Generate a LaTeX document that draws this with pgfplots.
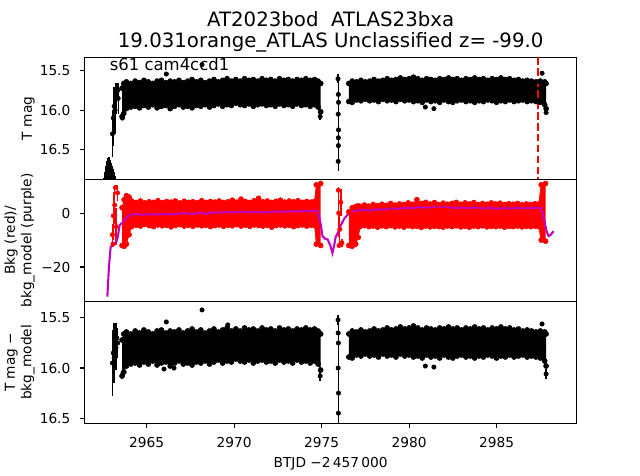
\documentclass[border=0pt]{standalone}
\usepackage{fontspec}
\setmainfont{DejaVu Sans}
\usepackage{pgfplots}
\usepackage{pgfplotstable}
\pgfplotsset{compat=1.18}
\usepgfplotslibrary{fillbetween}
\definecolor{mpurple}{rgb}{0.75,0,0.75}

% ---- T mag band, first orbit (x, top=smaller mag, bottom=larger mag)
\pgfplotstableread{
x t b
2963.60 15.72 16.08
2963.70 15.66 16.04
2963.85 15.64 15.98
2964.10 15.66 15.96
2964.35 15.63 15.95
2964.60 15.65 15.97
2964.85 15.62 15.94
2965.10 15.64 15.96
2965.35 15.66 15.93
2965.60 15.63 15.97
2965.85 15.62 15.95
2966.10 15.65 15.94
2966.35 15.63 15.98
2966.60 15.64 15.95
2966.85 15.62 15.93
2967.10 15.65 15.96
2967.35 15.63 15.95
2967.60 15.61 15.97
2967.85 15.64 15.94
2968.10 15.62 15.95
2968.35 15.65 15.93
2968.60 15.63 15.96
2968.85 15.61 15.94
2969.10 15.64 15.92
2969.35 15.62 15.95
2969.60 15.60 15.93
2969.85 15.63 15.94
2970.10 15.61 15.91
2970.35 15.63 15.93
2970.60 15.60 15.94
2970.85 15.62 15.92
2971.10 15.61 15.95
2971.35 15.63 15.93
2971.60 15.60 15.92
2971.85 15.62 15.94
2972.10 15.61 15.93
2972.35 15.63 15.95
2972.60 15.60 15.92
2972.85 15.62 15.94
2973.10 15.61 15.93
2973.35 15.63 15.95
2973.60 15.61 15.92
2973.85 15.62 15.94
2974.10 15.60 15.93
2974.35 15.62 15.95
2974.60 15.61 15.93
2974.80 15.63 15.96
2974.95 15.66 16.02
}\bandA

% ---- T mag band, second orbit
\pgfplotstableread{
x t b
2976.56 15.66 15.89
2976.75 15.63 15.90
2977.00 15.64 15.87
2977.25 15.62 15.88
2977.50 15.64 15.86
2977.75 15.63 15.88
2978.00 15.61 15.87
2978.25 15.63 15.89
2978.50 15.62 15.86
2978.75 15.60 15.88
2979.00 15.62 15.87
2979.25 15.61 15.89
2979.50 15.59 15.86
2979.75 15.61 15.88
2980.00 15.60 15.87
2980.25 15.58 15.89
2980.50 15.60 15.88
2980.75 15.62 15.90
2981.00 15.60 15.87
2981.25 15.61 15.89
2981.50 15.62 15.88
2981.75 15.60 15.90
2982.00 15.61 15.87
2982.25 15.59 15.89
2982.50 15.61 15.90
2982.75 15.60 15.88
2983.00 15.62 15.87
2983.25 15.60 15.89
2983.50 15.61 15.88
2983.75 15.59 15.90
2984.00 15.61 15.88
2984.25 15.60 15.89
2984.50 15.62 15.87
2984.75 15.60 15.88
2985.00 15.61 15.90
2985.25 15.59 15.88
2985.50 15.61 15.89
2985.75 15.60 15.87
2986.00 15.62 15.89
2986.25 15.61 15.88
2986.50 15.63 15.87
2986.75 15.62 15.89
2987.00 15.63 15.88
2987.25 15.64 15.89
2987.50 15.63 15.90
2987.75 15.64 15.93
2987.83 15.66 15.98
}\bandB

% ---- panel 1 early ramp (points mostly below the lower limit)
\pgfplotstableread{
x y e
2962.56 17.16 0.30
2962.62 17.08 0.30
2962.68 17.01 0.30
2962.74 16.95 0.30
2962.80 16.91 0.30
2962.86 16.90 0.30
2962.92 16.93 0.30
2962.98 16.97 0.30
2963.04 17.01 0.30
2963.10 17.05 0.30
2963.16 17.09 0.30
2963.22 17.13 0.30
2963.28 17.17 0.30
}\rampA

% ---- panel 1 streaks and single points (x, y, error)
\pgfplotstableread{
x y e
2963.05 16.30 0.30
2963.10 16.10 0.35
2963.15 15.95 0.25
2963.20 16.00 0.30
2963.25 15.85 0.20
2963.30 15.80 0.15
2963.35 15.75 0.10
2963.38 15.85 0.20
2975.94 15.60 0.06
2975.96 15.80 0.15
2975.95 16.05 0.15
2975.97 16.25 0.12
2975.96 16.45 0.15
2975.95 16.65 0.12
2975.97 15.90 0.05
2975.96 16.35 0.05
2966.13 15.54 0
2968.17 15.42 0
2980.93 15.96 0
2981.42 15.98 0
2987.60 15.53 0
2974.92 16.08 0.05
2963.62 16.10 0.02
2987.83 16.03 0.02
}\scatA

% ---- panel 3 streaks and single points
\pgfplotstableread{
x y e
2963.05 15.95 0.33
2963.10 15.85 0.30
2963.15 15.90 0.25
2963.20 15.75 0.20
2963.25 15.80 0.22
2963.30 15.70 0.15
2963.35 15.75 0.15
2975.94 15.52 0.05
2975.96 15.75 0.18
2975.95 16.00 0.15
2975.97 16.25 0.15
2975.96 16.45 0.12
2975.95 15.65 0.05
2966.13 15.54 0
2968.17 15.42 0
2969.64 15.57 0
2966.00 16.01 0
2966.57 16.00 0
2980.93 15.98 0
2981.42 15.99 0
2987.60 15.56 0
2987.83 16.06 0.05
2974.92 16.08 0.05
2963.65 16.05 0.03
}\scatC

% ---- background band, first orbit (x, hi, lo)
\pgfplotstableread{
x t b
2963.60 2.0 -12.0
2963.72 5.0 -12.3
2963.85 6.5 -11.5
2964.00 6.0 -8.0
2964.15 4.5 -5.0
2964.40 4.0 -4.5
2964.65 4.5 -4.8
2964.90 3.8 -4.2
2965.15 4.2 -4.6
2965.40 4.0 -5.0
2965.65 4.6 -4.4
2965.90 3.9 -4.7
2966.15 4.3 -4.5
2966.40 4.1 -5.1
2966.65 4.5 -4.6
2966.90 3.8 -4.3
2967.15 4.4 -4.8
2967.40 4.0 -4.5
2967.65 4.2 -4.9
2967.90 3.9 -4.4
2968.15 4.6 -4.7
2968.40 4.0 -4.5
2968.65 4.3 -5.0
2968.90 4.1 -4.6
2969.15 4.5 -4.4
2969.40 3.9 -4.9
2969.65 4.2 -4.5
2969.90 4.8 -4.7
2970.15 4.1 -4.3
2970.40 5.2 -4.8
2970.65 4.3 -4.5
2970.90 4.0 -4.9
2971.15 4.6 -4.4
2971.40 5.5 -4.6
2971.65 4.2 -4.8
2971.90 4.5 -4.5
2972.15 4.0 -5.2
2972.40 4.4 -4.6
2972.65 4.8 -4.4
2972.90 4.1 -4.7
2973.15 4.5 -4.5
2973.40 4.2 -5.0
2973.65 4.6 -4.6
2973.90 4.0 -4.4
2974.15 4.3 -4.8
2974.40 4.1 -4.5
2974.60 4.4 -4.6
2974.70 10.5 -11.5
2974.95 11.0 -12.0
}\redA

% ---- background band, second orbit
\pgfplotstableread{
x t b
2976.56 0.5 -12.0
2976.75 2.0 -12.3
2976.95 2.5 -11.5
2977.10 2.7 -9.0
2977.20 2.5 -5.0
2977.45 3.0 -4.6
2977.70 2.6 -5.0
2977.95 3.2 -4.8
2978.20 2.8 -5.2
2978.45 3.3 -4.7
2978.70 2.9 -5.0
2978.95 3.6 -4.6
2979.20 3.0 -5.1
2979.45 3.4 -4.8
2979.70 3.2 -5.2
2979.95 3.8 -4.7
2980.20 3.3 -5.0
2980.45 5.0 -4.9
2980.70 3.6 -5.3
2980.95 4.0 -4.8
2981.20 3.4 -5.1
2981.45 3.9 -4.9
2981.70 3.2 -5.0
2981.95 3.7 -5.2
2982.20 3.3 -4.8
2982.45 3.6 -5.0
2982.70 4.0 -4.7
2982.95 3.3 -5.1
2983.20 3.8 -4.9
2983.45 3.4 -5.2
2983.70 3.9 -4.8
2983.95 3.2 -5.0
2984.20 3.6 -4.7
2984.45 3.3 -5.1
2984.70 3.8 -4.9
2984.95 3.4 -5.0
2985.20 3.7 -4.8
2985.45 3.2 -5.2
2985.70 3.5 -4.9
2985.95 3.3 -5.0
2986.20 3.6 -4.8
2986.45 3.1 -5.1
2986.70 3.4 -4.9
2986.95 3.2 -5.0
2987.20 3.5 -4.8
2987.40 3.3 -5.0
2987.55 10.5 -10.0
2987.80 11.0 -10.4
}\redB

% ---- panel 2 streaks
\pgfplotstableread{
x y e
2963.05 -8.0 4.0
2963.10 -1.0 9.0
2963.18 3.0 7.0
2963.26 -5.0 7.0
2963.34 7.5 3.0
2963.08 -11.5 0.8
2963.22 9.5 1.0
2975.98 0.0 9.0
2976.04 -6.0 6.0
2976.10 4.0 5.0
2976.16 -11.0 1.5
2975.96 8.5 1.2
2976.00 -12.0 0.5
}\scatB

% ---- background model (purple)
\pgfplotstableread{
x y
2962.76 -31
2962.85 -20
2962.95 -12.5
2963.10 -12
2963.25 -11
2963.35 -9.0
2963.46 -4.5
2963.70 -3.0
2963.92 -1.2
2964.30 -0.3
2964.80 -0.6
2965.20 -0.4
2965.60 -0.5
2966.00 -0.3
2966.40 -0.5
2966.80 -0.2
2967.20 0.0
2967.60 -0.3
2968.00 0.1
2968.40 -0.2
2968.80 0.3
2969.20 0.2
2969.60 0.5
2970.00 0.2
2970.40 0.6
2970.80 0.3
2971.20 0.5
2971.60 0.2
2972.00 0.4
2972.40 0.6
2972.80 0.5
2973.20 0.7
2973.60 0.6
2974.00 0.9
2974.40 0.7
2974.70 1.0
2974.80 0.3
2974.95 -4
2975.05 -8.5
2975.20 -9.5
2975.35 -9.8
2975.50 -12
2975.62 -14.8
2975.72 -12
2975.80 -9
2975.95 -7
2976.10 -4.5
2976.30 -2
2976.50 -0.5
2976.70 0.5
2977.00 1.0
2977.40 1.2
2977.80 1.0
2978.20 1.5
2978.60 1.3
2979.00 1.8
2979.40 1.6
2979.80 2.0
2980.20 1.8
2980.60 2.3
2981.00 2.0
2981.40 2.5
2981.80 2.2
2982.20 2.4
2982.60 1.9
2983.00 2.1
2983.40 1.8
2983.80 2.2
2984.20 1.7
2984.60 2.0
2985.00 1.6
2985.40 1.9
2985.80 1.7
2986.20 2.0
2986.60 1.8
2987.00 1.9
2987.40 2.0
2987.55 1.8
2987.70 -2
2987.85 -6.5
2987.97 -8.5
2988.10 -8.0
2988.25 -6.7
}\model

\begin{document}
\begin{tikzpicture}
\pgfplotsset{
  every axis/.append style={
    scale only axis, width=4.96in, height=1.23in,
    xmin=2961.47, xmax=2989.57,
    axis line style={line width=0.8pt},
    tick align=outside, ytick pos=left, xtick pos=bottom,
    major tick length=3.5pt, tick style={line width=0.8pt, black},
    tick label style={font=\fontsize{10}{12}\selectfont},
    yticklabel style={xshift=-3.5pt},
    xticklabel style={yshift=-3.5pt},
    label style={font=\fontsize{10}{12}\selectfont},
    ylabel style={at={(axis description cs:-0.092,0.5)}, anchor=south, align=center},
  },
  bandline/.style={line width=0.5pt, mark=*, mark size=1.8pt},
  errpts/.style={only marks, mark=*, mark size=1.6pt,
    error bars/y dir=both, error bars/y explicit, error bars/error mark=none},
}
% ---------------- panel 1
\begin{axis}[at={(0.8in,2.99in)}, anchor=south west,
  y dir=reverse, ymin=15.33, ymax=16.88,
  ytick={15.5,16,16.5}, yticklabels={15.5,16.0,16.5},
  xtick=\empty, ylabel={T mag}]
\addplot[bandline, black, name path=a1] table[x=x,y=t]{\bandA};
\addplot[bandline, black, name path=a2] table[x=x,y=b]{\bandA};
\addplot[black] fill between[of=a1 and a2];
\addplot[bandline, black, name path=b1] table[x=x,y=t]{\bandB};
\addplot[bandline, black, name path=b2] table[x=x,y=b]{\bandB};
\addplot[black] fill between[of=b1 and b2];
\addplot[errpts, black, error bars/error bar style={line width=1.4pt, black}] table[x=x,y=y,y error=e]{\rampA};
\addplot[errpts, black, error bars/error bar style={line width=1pt, black}] table[x=x,y=y,y error=e]{\scatA};
\addplot[red, line width=1.5pt, dash pattern=on 5.55pt off 2.4pt] coordinates {(2987.36,15.33) (2987.36,16.88)};
\node[anchor=base west, inner sep=0pt, font=\fontsize{12}{14}\selectfont] at (axis description cs:0.0504,0.894) {s61 cam4ccd1};
\end{axis}
% ---------------- panel 2
\begin{axis}[at={(0.8in,1.76in)}, anchor=south west,
  ymin=-32.75, ymax=12.5,
  ytick={-20,0}, yticklabels={−20,0},
  xtick=\empty, ylabel={Bkg (red)/\\bkg\_model (purple)}]
\addplot[bandline, red, name path=c1] table[x=x,y=t]{\redA};
\addplot[bandline, red, name path=c2] table[x=x,y=b]{\redA};
\addplot[red] fill between[of=c1 and c2];
\addplot[bandline, red, name path=d1] table[x=x,y=t]{\redB};
\addplot[bandline, red, name path=d2] table[x=x,y=b]{\redB};
\addplot[red] fill between[of=d1 and d2];
\addplot[errpts, red, error bars/error bar style={line width=1pt, red}] table[x=x,y=y,y error=e]{\scatB};
\addplot[mpurple, line width=1.5pt, no marks] table[x=x,y=y]{\model};
\end{axis}
% ---------------- panel 3
\begin{axis}[at={(0.8in,0.53in)}, anchor=south west,
  y dir=reverse, ymin=15.335, ymax=16.552,
  ytick={15.5,16,16.5}, yticklabels={15.5,16.0,16.5},
  xtick={2965,2970,2975,2980,2985}, xticklabels={2965,2970,2975,2980,2985},
  xlabel={BTJD −2\,457\,000}, ylabel={T mag −\\bkg\_model}]
\addplot[bandline, black, name path=e1] table[x=x,y=t]{\bandA};
\addplot[bandline, black, name path=e2] table[x=x,y=b]{\bandA};
\addplot[black] fill between[of=e1 and e2];
\addplot[bandline, black, name path=f1] table[x=x,y=t]{\bandB};
\addplot[bandline, black, name path=f2] table[x=x,y=b]{\bandB};
\addplot[black] fill between[of=f1 and f2];
\addplot[errpts, black, error bars/error bar style={line width=1pt, black}] table[x=x,y=y,y error=e]{\scatC};
\end{axis}
% ---------------- title
\node[anchor=base, font=\fontsize{14.4}{17}\selectfont] at (3.28in,4.533in) {AT2023bod\ \ ATLAS23bxa};
\node[anchor=base, font=\fontsize{14.4}{17}\selectfont] at (3.28in,4.317in) {19.031orange\_ATLAS Unclassified z= -99.0};
\path (0,0) rectangle (6.4in,4.8in);
\end{tikzpicture}
\end{document}
